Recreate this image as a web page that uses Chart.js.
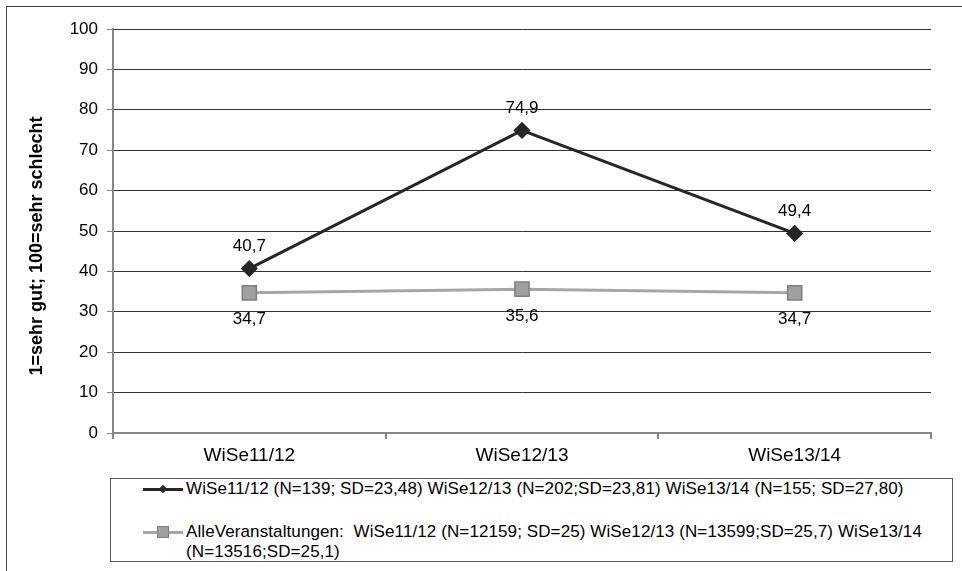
<!DOCTYPE html>
<html>
<head>
<meta charset="utf-8">
<script src="https://cdn.jsdelivr.net/npm/chart.js@4.4.1/dist/chart.umd.min.js"></script>
<style>
  body { margin: 0; background: #fff; font-family: "Liberation Sans", Arial, sans-serif; }
  #wrap { position: relative; width: 962px; height: 571px; overflow: hidden; }
  #frame { position: absolute; left: 6px; top: 6px; width: 1000px; height: 600px; border: 1px solid #444; }
  canvas { position: absolute; left: 0; top: 0; }
  #legende { position: absolute; left: 110px; top: 478px; width: 841px; height: 82px; border: 1px solid #555; background: #fff; font-size: 17px; letter-spacing: 0.1px; color: #000; }
  .zeile { position: absolute; left: 0; white-space: nowrap; line-height: 20px; }
  .probe { display: inline-block; position: relative; width: 40px; height: 20px; vertical-align: top; margin-left: 32px; margin-right: 3px; }
  .probe .strich { position: absolute; left: 0; right: 0; top: 9px; height: 3px; }
  .probe .mark { position: absolute; }
</style>
</head>
<body>
<div id="wrap">
  <div id="frame"></div>
  <canvas id="grafik" width="962" height="571"></canvas>
  <div id="legende">
    <div class="zeile" style="top:0px">
      <span class="probe"><span class="strich" style="background:#262626"></span><span class="mark" style="left:17px;top:7px;width:6px;height:6px;background:#262626;transform:rotate(45deg)"></span></span>WiSe11/12 (N=139; SD=23,48) WiSe12/13 (N=202;SD=23,81) WiSe13/14 (N=155; SD=27,80)
    </div>
    <div class="zeile" style="top:43px">
      <span class="probe"><span class="strich" style="background:#a6a6a6"></span><span class="mark" style="left:14px;top:4px;width:10px;height:10px;background:#a0a0a0;border:1px solid #7f7f7f"></span></span>AlleVeranstaltungen:&nbsp; WiSe11/12 (N=12159; SD=25) WiSe12/13 (N=13599;SD=25,7) WiSe13/14<br>
      <span style="margin-left:75px">(N=13516;SD=25,1)</span>
    </div>
  </div>
</div>
<script>
const semester = ["WiSe11/12", "WiSe12/13", "WiSe13/14"];
const kurs = [40.7, 74.9, 49.4];
const alle = [34.7, 35.6, 34.7];
const yTicks = [0, 10, 20, 30, 40, 50, 60, 70, 80, 90, 100];

const schrift = "'Liberation Sans', Arial, sans-serif";

const werteLabels = {
  id: "werteLabels",
  afterDatasetsDraw(chart) {
    const ctx = chart.ctx;
    ctx.save();
    ctx.font = "17px " + schrift;
    ctx.fillStyle = "#000";
    ctx.textAlign = "center";
    ctx.textBaseline = "middle";
    chart.data.datasets.forEach((ds, i) => {
      const meta = chart.getDatasetMeta(i);
      meta.data.forEach((pt, j) => {
        const text = String(ds.data[j]).replace(".", ",");
        const dy = i === 0 ? -22 : 27;
        ctx.fillText(text, pt.x, pt.y + dy);
      });
    });
    ctx.restore();
  }
};

new Chart(document.getElementById("grafik"), {
  type: "line",
  data: {
    labels: semester,
    datasets: [{
      label: "Kurs",
      data: kurs,
      borderColor: "#262626",
      borderWidth: 3,
      pointStyle: "rectRot",
      pointRadius: 6.5,
      pointBackgroundColor: "#262626",
      pointBorderColor: "#262626",
      tension: 0
    }, {
      label: "AlleVeranstaltungen",
      data: alle,
      borderColor: "#a6a6a6",
      borderWidth: 3,
      pointStyle: "rect",
      pointRadius: 10,
      pointBackgroundColor: "#a0a0a0",
      pointBorderColor: "#7f7f7f",
      pointBorderWidth: 1.5,
      tension: 0
    }]
  },
  options: {
    responsive: false,
    animation: false,
    layout: { padding: { top: 29, right: 31, left: 0, bottom: 0 } },
    plugins: { legend: { display: false }, tooltip: { enabled: false } },
    scales: {
      x: {
        offset: true,
        grid: {
          offset: true,
          color: c => c.index === semester.length ? "#868686" : "rgba(0,0,0,0)",
          lineWidth: 2,
          tickColor: "#868686",
          tickLength: 6
        },
        border: { color: "#868686", width: 2 },
        ticks: { color: "#000", font: { size: 19, family: schrift }, padding: 5 },
        afterFit: s => { s.height = 138; }
      },
      y: {
        min: 0,
        max: 100,
        afterBuildTicks: s => { s.ticks = yTicks.map(v => ({ value: v })); },
        grid: { color: "#333", lineWidth: 1, tickColor: "#868686", tickLength: 6 },
        border: { color: "#868686", width: 2 },
        ticks: { color: "#000", font: { size: 17, family: schrift }, padding: 9 },
        title: {
          display: true,
          text: "1=sehr gut; 100=sehr schlecht\u00a0\u00a0\u00a0\u00a0\u00a0\u00a0",
          color: "#000",
          padding: { top: 26, bottom: 0 },
          font: { size: 18, weight: "bold", family: schrift }
        },
        afterFit: s => { s.width = 113; }
      }
    }
  },
  plugins: [werteLabels]
});
</script>
</body>
</html>
